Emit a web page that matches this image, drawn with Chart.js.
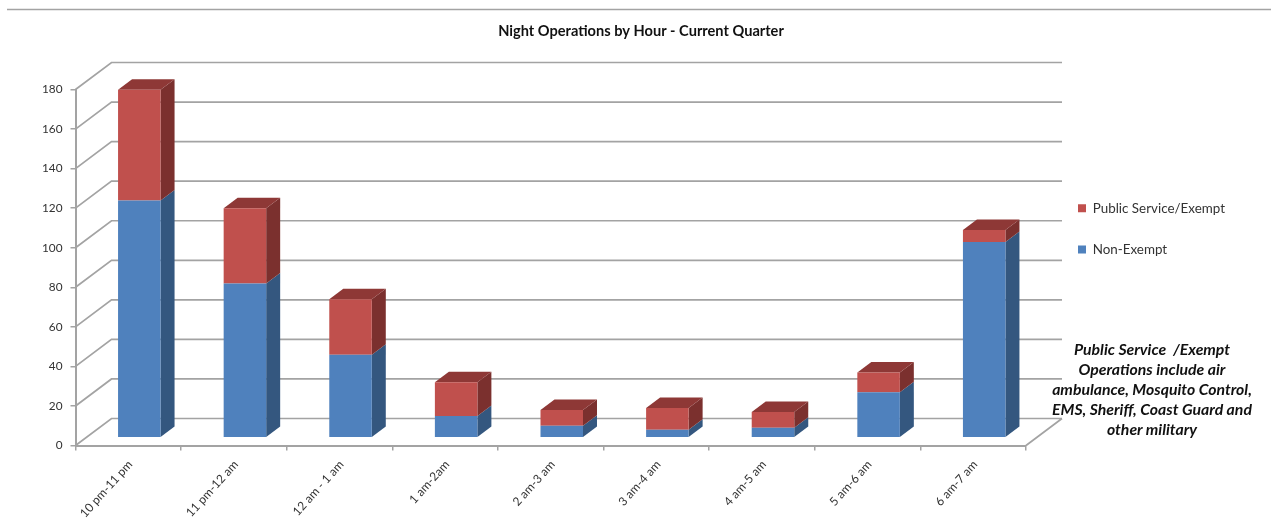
<!DOCTYPE html>
<html>
<head>
<meta charset="utf-8">
<title>Night Operations by Hour</title>
<script src="https://cdn.jsdelivr.net/npm/chart.js@4/dist/chart.umd.min.js"></script>
<style>
  html, body { margin: 0; padding: 0; background: #fff; }
  #canvas_div { position: relative; width: 1271px; height: 525px; overflow: hidden; }
  #note {
    position: absolute; left: 1022px; top: 339px; width: 260px;
    font: italic bold 15.8px/20px Lato, sans-serif; color: #111; text-align: center;
  }
</style>
</head>
<body>
<div id="canvas_div">
  <canvas id="myChart" width="1271" height="525"></canvas>
  <div id="note">Public Service &nbsp;/Exempt<br>Operations include air<br>ambulance, Mosquito Control,<br>EMS, Sheriff, Coast Guard and<br>other military</div>
</div>
<script>
const categories = ["10 pm-11 pm", "11 pm-12 am", "12 am - 1 am", "1 am-2am", "2 am-3 am", "3 am-4 am", "4 am-5 am", "5 am-6 am", "6 am-7 am"];
const nonExempt = [120, 78, 42, 11, 6, 4, 5, 23, 99];
const publicService = [56, 38, 28, 17, 8, 11, 8, 10, 6];

const gridColor = "#a3a3a3";
const textColor = "#333333";

// depth of the walls and of the bars, in pixels
const wallDepth = { x: 36, y: -27 };
const barDepth = { x: 14, y: -10.5 };
const barShift = { x: 11, y: -7.8 };

const sideColors = ["#34577f", "#7b302e"];
const topColor = "#8e3836";

const quad = (ctx, pts, color) => {
  ctx.fillStyle = color;
  ctx.beginPath();
  ctx.moveTo(pts[0][0], pts[0][1]);
  pts.slice(1).forEach((p) => ctx.lineTo(p[0], p[1]));
  ctx.closePath();
  ctx.fill();
};

const box3d = {
  id: "box3d",
  afterLayout(chart) {
    // legend and title sit where the original has them
    const legend = chart.legend;
    legend.left = 1050;
    legend.right = 1262;
    legend.top = 173.5;
    legend.bottom = 440;
    chart.titleBlock.left = 11;
    chart.titleBlock.right = 1271;
  },
  beforeDatasetsDraw(chart) {
    const { ctx, chartArea } = chart;
    const y = chart.scales.y;

    ctx.save();
    ctx.strokeStyle = gridColor;
    ctx.lineWidth = 1.7;
    ctx.beginPath();
    ctx.moveTo(7, 9.5);
    ctx.lineTo(1271, 9.5);
    y.ticks.forEach((tick) => {
      const py = y.getPixelForValue(tick.value);
      ctx.moveTo(chartArea.left, py);
      ctx.lineTo(chartArea.left + wallDepth.x, py + wallDepth.y);
      ctx.lineTo(chartArea.right + wallDepth.x, py + wallDepth.y);
    });
    ctx.moveTo(chartArea.right, chartArea.bottom);
    ctx.lineTo(chartArea.right + wallDepth.x, chartArea.bottom + wallDepth.y);
    ctx.stroke();
    ctx.restore();

    // everything from here to afterDatasetsDraw is moved into the room
    ctx.save();
    ctx.translate(barShift.x, barShift.y);
    chart.data.datasets.forEach((ds, i) => {
      chart.getDatasetMeta(i).data.forEach((bar) => {
        const right = bar.x + bar.width / 2;
        const left = bar.x - bar.width / 2;
        quad(ctx, [
          [right, bar.y],
          [right + barDepth.x, bar.y + barDepth.y],
          [right + barDepth.x, bar.base + barDepth.y],
          [right, bar.base],
        ], sideColors[i]);
        if (i === 1) {
          quad(ctx, [
            [left, bar.y],
            [left + barDepth.x, bar.y + barDepth.y],
            [right + barDepth.x, bar.y + barDepth.y],
            [right, bar.y],
          ], topColor);
        }
      });
    });
  },
  afterDatasetsDraw(chart) {
    chart.ctx.restore();
  },
};

const config = {
  type: "bar",
  data: {
    labels: categories,
    datasets: [
      { label: "Non-Exempt", data: nonExempt, backgroundColor: "#4f81bd", clip: false },
      { label: "Public Service/Exempt", data: publicService, backgroundColor: "#c0504d", clip: false },
    ],
  },
  options: {
    responsive: false,
    animation: false,
    events: [],
    barPercentage: 0.4025,
    categoryPercentage: 1,
    layout: { padding: { left: 0, right: 245, top: 0, bottom: 0 } },
    plugins: {
      title: {
        display: true,
        text: "Night Operations by Hour - Current Quarter",
        color: "#111",
        font: { family: "Lato", size: 14.6, weight: "bold", lineHeight: 1.2 },
        padding: { top: 23, bottom: 49 },
      },
      legend: {
        position: "chartArea",
        align: "start",
        reverse: true,
        labels: {
          boxWidth: 8,
          boxHeight: 8,
          padding: 28,
          color: textColor,
          font: { family: "Lato", size: 13.4 },
        },
      },
      tooltip: { enabled: false },
    },
    scales: {
      x: {
        stacked: true,
        afterFit: (scale) => { scale.height = 79.5; },
        grid: { drawOnChartArea: false, color: gridColor, tickLength: 5, lineWidth: 1.5, offset: true },
        border: { color: gridColor, width: 2 },
        ticks: { color: textColor, font: { family: "Lato", size: 12 }, minRotation: 48, maxRotation: 48, padding: 7, labelOffset: 2 },
      },
      y: {
        stacked: true,
        min: 0,
        max: 180,
        afterFit: (scale) => { scale.width = 75.5; },
        grid: { drawOnChartArea: false, color: gridColor, tickLength: 5, lineWidth: 1.5 },
        border: { color: gridColor, width: 2 },
        ticks: { stepSize: 20, color: textColor, font: { family: "Lato", size: 11.8 }, padding: 8 },
      },
    },
  },
};

window.onload = () => {
  new Chart(document.getElementById("myChart"), { ...config, plugins: [box3d] });
};
</script>
</body>
</html>
